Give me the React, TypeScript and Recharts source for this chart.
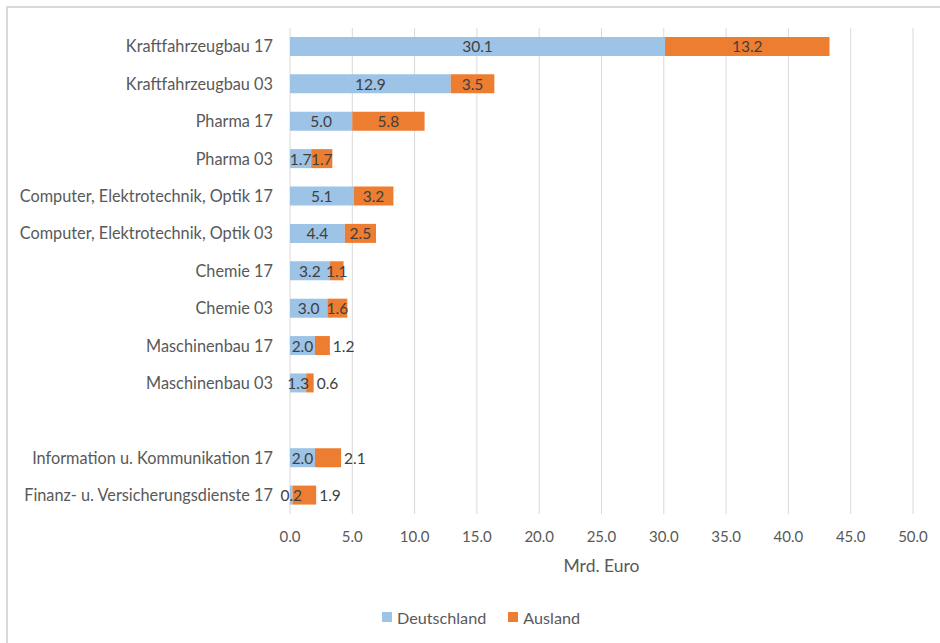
import React from 'react';
import { BarChart, Bar, XAxis, YAxis, CartesianGrid, Legend, LabelList } from 'recharts';

const categories = [
  'Kraftfahrzeugbau 17',
  'Kraftfahrzeugbau 03',
  'Pharma 17',
  'Pharma 03',
  'Computer, Elektrotechnik, Optik 17',
  'Computer, Elektrotechnik, Optik 03',
  'Chemie 17',
  'Chemie 03',
  'Maschinenbau 17',
  'Maschinenbau 03',
  '',
  'Information u. Kommunikation 17',
  'Finanz- u. Versicherungsdienste 17',
];
const deutschland = [30.1, 12.9, 5.0, 1.7, 5.1, 4.4, 3.2, 3.0, 2.0, 1.3, null, 2.0, 0.2];
const ausland = [13.2, 3.5, 5.8, 1.7, 3.2, 2.5, 1.1, 1.6, 1.2, 0.6, null, 2.1, 1.9];
const xTicks = [0, 5, 10, 15, 20, 25, 30, 35, 40, 45, 50];
const seriesOrder = ['Deutschland', 'Ausland'];

const data = categories.map((name, i) => ({
  name,
  Deutschland: deutschland[i],
  Ausland: ausland[i],
}));

const FONT = 'Lato, "Noto Sans", sans-serif';
const TEXT = '#595959';
const LABEL = '#404040';
const BLUE = '#9DC3E6';
const ORANGE = '#ED7D31';

// categories whose "Ausland" label sits outside the bar end
const outsideNames = new Set([
  'Maschinenbau 17',
  'Maschinenbau 03',
  'Information u. Kommunikation 17',
  'Finanz- u. Versicherungsdienste 17',
]);
// LabelList indexes only the rows that have a value
const auslandRows = data.filter((d) => d.Ausland != null);

const centerLabel = (props: any) => {
  const { x, y, width, height, value } = props;
  if (value == null) return null;
  return (
    <text x={x + width / 2} y={y + height / 2} textAnchor="middle" dominantBaseline="central"
      fill={LABEL} fontSize={15.5} fontFamily={FONT}>
      {Number(value).toFixed(1)}
    </text>
  );
};

const auslandLabel = (props: any) => {
  const { x, y, width, height, value, index } = props;
  if (value == null) return null;
  const row = auslandRows[index];
  const outside = row ? outsideNames.has(row.name) : false;
  return (
    <text x={outside ? x + width + 3 : x + width / 2} y={y + height / 2}
      textAnchor={outside ? 'start' : 'middle'} dominantBaseline="central"
      fill={LABEL} fontSize={15.5} fontFamily={FONT}>
      {Number(value).toFixed(1)}
    </text>
  );
};

const legendContent = (props: any) => {
  const items = [...(props.payload || [])].sort(
    (a: any, b: any) => seriesOrder.indexOf(a.value) - seriesOrder.indexOf(b.value)
  );
  return (
    <div style={{ display: 'flex', justifyContent: 'center', alignItems: 'center', fontFamily: FONT, fontSize: 16.2, color: TEXT, height: 24 }}>
      {items.map((it: any, i: number) => (
        <div key={i} style={{ display: 'flex', alignItems: 'center', marginRight: i === 0 ? 22 : 0 }}>
          <span style={{ width: 10, height: 10, background: it.color, display: 'inline-block', marginRight: 5 }} />
          <span>{it.value}</span>
        </div>
      ))}
    </div>
  );
};

const axisTitle = (props: any) => {
  const { viewBox } = props;
  const { x, y, width } = viewBox;
  return (
    <text x={x + width / 2} y={y + 51} textAnchor="middle" dominantBaseline="central"
      fill={TEXT} fontSize={17.5} fontFamily={FONT}>
      Mrd. Euro
    </text>
  );
};

export default function App() {
  return (
    <div style={{ position: 'absolute', left: 0, top: 0, width: 940, height: 643, overflow: 'hidden', background: '#fff' }}>
      <div style={{ position: 'absolute', left: 6, top: 6, width: 960, height: 660, border: '2px solid #D9D9D9', boxSizing: 'border-box' }} />
      <div style={{ position: 'absolute', left: 0, top: 0 }}>
        <BarChart width={940} height={643} data={data} layout="vertical"
          margin={{ top: 28, right: 27, bottom: 45, left: 10 }} barCategoryGap="24%">
          <CartesianGrid horizontal={false} stroke="#D9D9D9" strokeWidth={1} />
          <XAxis type="number" domain={[0, 50]} ticks={xTicks} tickFormatter={(v: number) => v.toFixed(1)}
            axisLine={false} tickLine={false} tickSize={0} tickMargin={17} height={60}
            tick={{ fill: TEXT, fontSize: 15, fontFamily: FONT }} label={axisTitle} interval={0} />
          <YAxis type="category" dataKey="name" width={280} axisLine={false} tickLine={false}
            tickSize={0} tickMargin={17} interval={0}
            tick={{ fill: TEXT, fontSize: 16.3, fontFamily: FONT }} />
          <Legend verticalAlign="bottom" content={legendContent} wrapperStyle={{ top: 605, left: 11, width: 940 }} />
          <Bar dataKey="Deutschland" stackId="a" fill={BLUE} isAnimationActive={false}>
            <LabelList dataKey="Deutschland" content={centerLabel} />
          </Bar>
          <Bar dataKey="Ausland" stackId="a" fill={ORANGE} isAnimationActive={false}>
            <LabelList dataKey="Ausland" content={auslandLabel} />
          </Bar>
        </BarChart>
      </div>
    </div>
  );
}
